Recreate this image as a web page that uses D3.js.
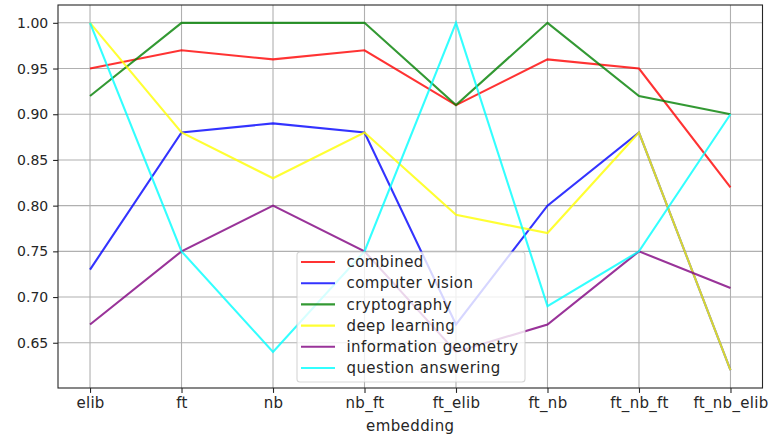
<!DOCTYPE html>
<html>
<head>
<meta charset="utf-8">
<script src="https://cdn.jsdelivr.net/npm/d3@7"></script>
<style>
  body { margin: 0; background: #fff; }
  text { font-family: "DejaVu Sans", sans-serif; fill: #262626; }
</style>
</head>
<body>
<svg width="769" height="440"></svg>
<script>
let embeddings = ["elib", "ft", "nb", "nb_ft", "ft_elib", "ft_nb", "ft_nb_ft", "ft_nb_elib"];
let topics = ["combined", "computer vision", "cryptography", "deep learning", "information geometry", "question answering"];
let colors = ["red", "blue", "green", "yellow", "purple", "cyan"];

let combined            = [0.95, 0.97, 0.96, 0.97, 0.91, 0.96, 0.95, 0.82];
let computer_vision     = [0.73, 0.88, 0.89, 0.88, 0.67, 0.80, 0.88, 0.62];
let cryptography        = [0.92, 1.00, 1.00, 1.00, 0.91, 1.00, 0.92, 0.90];
let deep_learning       = [1.00, 0.88, 0.83, 0.88, 0.79, 0.77, 0.88, 0.62];
let information_geometry= [0.67, 0.75, 0.80, 0.75, 0.64, 0.67, 0.75, 0.71];
let question_answering  = [1.00, 0.75, 0.64, 0.75, 1.00, 0.69, 0.75, 0.90];

let yticks = [0.65, 0.70, 0.75, 0.80, 0.85, 0.90, 0.95, 1.00];

let series = [combined, computer_vision, cryptography, deep_learning, information_geometry, question_answering];

let m_left=58, m_right=762.5, m_top=5, m_bottom=388;

let svg = d3.select("svg");

let x = d3.scalePoint().domain(embeddings).range([m_left, m_right]).padding(0.35);
let y = d3.scaleLinear().domain([0.6005, 1.0195]).range([m_bottom, m_top]);

// grid
let grid = svg.append("g");
grid.selectAll("line.gx")
    .data(embeddings)
    .join("line")
    .attr("class", "gx")
    .attr("x1", d=>x(d)).attr("x2", d=>x(d))
    .attr("y1", m_top).attr("y2", m_bottom)
    .attr("stroke", "#b0b0b0").attr("stroke-width", 1.1);
grid.selectAll("line.gy")
    .data(yticks)
    .join("line")
    .attr("class", "gy")
    .attr("x1", m_left).attr("x2", m_right)
    .attr("y1", d=>y(d)).attr("y2", d=>y(d))
    .attr("stroke", "#b0b0b0").attr("stroke-width", 1.1);

// lines
let line = d3.line()
    .x((d,i)=>x(embeddings[i]))
    .y(d=>y(d));

svg.append("g").selectAll("path")
    .data(series)
    .join("path")
    .attr("d", d=>line(d))
    .attr("fill", "none")
    .attr("stroke", (d,i)=>colors[i])
    .attr("stroke-opacity", 0.8)
    .attr("stroke-width", 2.1);

// axes
let xAxis = svg.append("g")
    .attr("transform", "translate(0," + m_bottom + ")")
    .call(d3.axisBottom(x).tickSize(4.9).tickPadding(4.9));
let yAxis = svg.append("g")
    .attr("transform", "translate(" + m_left + ",0)")
    .call(d3.axisLeft(y).tickValues(yticks).tickFormat(d3.format(".2f")).tickSize(4.9).tickPadding(4.9));

[xAxis, yAxis].forEach(a=>{
    a.select(".domain").remove();
    a.selectAll(".tick line").attr("stroke", "#262626").attr("stroke-width", 1.1);
    a.selectAll(".tick text").style("font-size", "14px").attr("fill", "#262626");
});
xAxis.selectAll(".tick text").style("font-size", "15px").style("letter-spacing", "0.3px");

// frame
svg.append("rect")
    .attr("x", m_left).attr("y", m_top)
    .attr("width", m_right-m_left).attr("height", m_bottom-m_top)
    .attr("fill", "none")
    .attr("stroke", "#262626")
    .attr("stroke-width", 1.1);

svg.append("text")
    .attr("x", (m_left+m_right)/2)
    .attr("y", 431)
    .attr("text-anchor", "middle")
    .style("font-size", "15px")
    .style("letter-spacing", "0.4px")
    .text("embedding");

// legend
let lg = svg.append("g").attr("transform", "translate(297,252)");
lg.append("rect")
    .attr("width", 228).attr("height", 130)
    .attr("rx", 3)
    .attr("fill", "#fff").attr("fill-opacity", 0.8)
    .attr("stroke", "#cccccc").attr("stroke-opacity", 0.8)
    .attr("stroke-width", 1.1);

let items = lg.selectAll("g.item")
    .data(topics)
    .join("g")
    .attr("class", "item")
    .attr("transform", (d,i)=>"translate(0," + (10 + i*21.2) + ")");
items.append("line")
    .attr("x1", 4).attr("x2", 38)
    .attr("stroke", (d,i)=>colors[i])
    .attr("stroke-opacity", 0.8)
    .attr("stroke-width", 2.1);
items.append("text")
    .attr("x", 49.5)
    .attr("dy", "0.35em")
    .style("font-size", "15px")
    .style("letter-spacing", "0.4px")
    .text(d=>d);
</script>
</body>
</html>
